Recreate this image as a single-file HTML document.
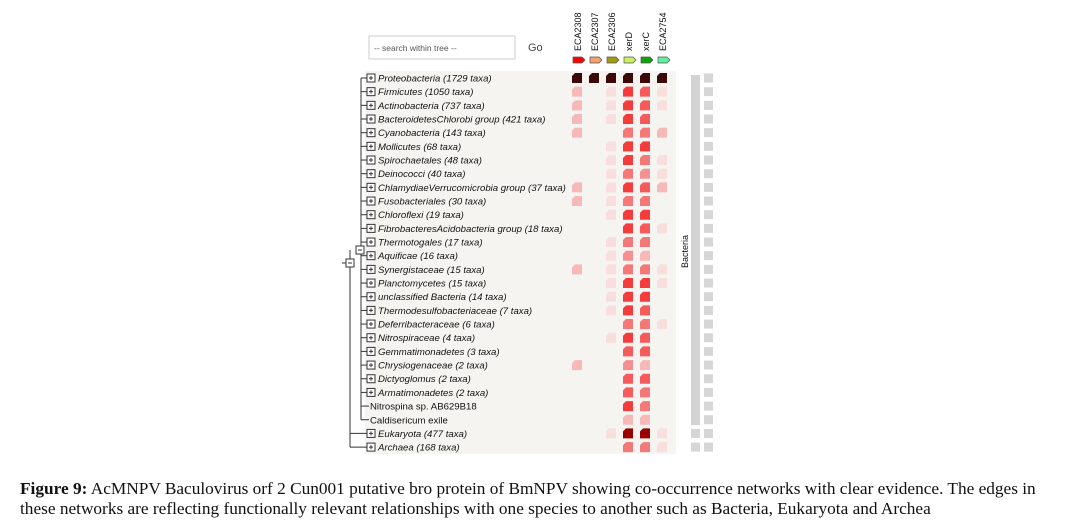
<!DOCTYPE html>
<html><head><meta charset="utf-8"><style>
body{margin:0;background:#fff;width:1067px;height:528px;overflow:hidden;}
svg{position:absolute;left:0;top:0;}
.cap{position:absolute;left:20px;top:479px;width:1035px;font-family:"Liberation Serif",serif;font-size:17.3px;line-height:20px;color:#111;white-space:nowrap;}
</style></head><body>
<svg width="1067" height="470" xmlns="http://www.w3.org/2000/svg" font-family="Liberation Sans, sans-serif">
<rect x="369" y="36" width="146" height="23" fill="#fff" stroke="#ccc"/>
<text x="374" y="51" font-size="8.5" fill="#555">-- search within tree --</text>
<text x="528" y="51" font-size="11" fill="#444">Go</text>
<g font-size="9" fill="#111">
<text transform="translate(581,51) rotate(-90)">ECA2308</text>
<text transform="translate(598,51) rotate(-90)">ECA2307</text>
<text transform="translate(615,51) rotate(-90)">ECA2306</text>
<text transform="translate(632,51) rotate(-90)">xerD</text>
<text transform="translate(649,51) rotate(-90)">xerC</text>
<text transform="translate(666,51) rotate(-90)">ECA2754</text>
</g>
<g stroke="#555" stroke-width="0.7">
<path d="M573,57h9l3,3l-3,3h-9z" fill="#f00"/>
<path d="M590,57h9l3,3l-3,3h-9z" fill="#f4a070"/>
<path d="M607,57h9l3,3l-3,3h-9z" fill="#a09a10"/>
<path d="M624,57h9l3,3l-3,3h-9z" fill="#c8f060"/>
<path d="M641,57h9l3,3l-3,3h-9z" fill="#10a010"/>
<path d="M658,57h9l3,3l-3,3h-9z" fill="#60f0a0"/>
</g>
<rect x="365" y="71" width="311" height="383" fill="#f5f4f0"/>
<rect x="691" y="75" width="9" height="350" fill="#d3d3d3"/>
<text transform="translate(688,268) rotate(-90)" font-size="9" fill="#111">Bacteria</text>
<g id="grey" fill="#d6d6d6"></g>
<g id="tree" stroke="#333" stroke-width="1" fill="none"></g>
<g id="labels" font-size="9.6" font-style="italic" fill="#111"></g>
<g id="cells"></g>
</svg>
<div class="cap"><b>Figure 9:</b> AcMNPV Baculovirus orf 2 Cun001 putative bro protein of BmNPV showing co-occurrence networks with clear evidence. The edges in<br>these networks are reflecting functionally relevant relationships with one species to another such as Bacteria, Eukaryota and Archea</div>
<script>
const NS="http://www.w3.org/2000/svg";
const names=["Proteobacteria (1729 taxa)","Firmicutes (1050 taxa)","Actinobacteria (737 taxa)","BacteroidetesChlorobi group (421 taxa)","Cyanobacteria (143 taxa)","Mollicutes (68 taxa)","Spirochaetales (48 taxa)","Deinococci (40 taxa)","ChlamydiaeVerrucomicrobia group (37 taxa)","Fusobacteriales (30 taxa)","Chloroflexi (19 taxa)","FibrobacteresAcidobacteria group (18 taxa)","Thermotogales (17 taxa)","Aquificae (16 taxa)","Synergistaceae (15 taxa)","Planctomycetes (15 taxa)","unclassified Bacteria (14 taxa)","Thermodesulfobacteriaceae (7 taxa)","Deferribacteraceae (6 taxa)","Nitrospiraceae (4 taxa)","Gemmatimonadetes (3 taxa)","Chrysiogenaceae (2 taxa)","Dictyoglomus (2 taxa)","Armatimonadetes (2 taxa)","Nitrospina sp. AB629B18","Caldisericum exile","Eukaryota (477 taxa)","Archaea (168 taxa)"];
const C={D:"#3d0808",E:"#9b0000",R:"#f53c3c",S:"#f65a5a",M:"#f47878",N:"#f59090",P:"#f7b8b8",L:"#f8dedc",_:null};
const data=["DDDDDD","P_LRSL","P_LRSL","P_LRS_","P__MMP","__LRR_","__LRML","__LMNL","P_LRSP","P_LMM_","__LRR_","___RSL","__LMM_","__LNP_","P_LMML","__LRRL","__LRR_","__LRS_","___MML","__LRS_","___SS_","P__NP_","___SS_","___SM_","___RM_","___PP_","__LEEL","___MML"];
const y0=78,dy=13.67;
const tree=document.getElementById("tree"),lab=document.getElementById("labels"),cells=document.getElementById("cells"),grey=document.getElementById("grey");
function el(p,t,a){const e=document.createElementNS(NS,t);for(const k in a)e.setAttribute(k,a[k]);p.appendChild(e);return e;}
function box(x,y,s){el(tree,"rect",{x:x,y:y-4,width:8,height:8,fill:"#fff"});el(tree,"path",{d:s?`M${x+2},${y}h4M${x+4},${y-2}v4`:`M${x+2},${y}h4`});}
const cols=[572,589,606,623,640,657];
for(let i=0;i<28;i++){
 const y=y0+i*dy;
 const bx=i>=26?350:361;
 const leaf=(i==24||i==25);
 el(tree,"path",{d:`M${bx},${y}H${leaf?369:367}`});
 if(!leaf)box(367,y,true);
 const t=el(lab,"text",{x:leaf?370:378,y:y+3.5});t.textContent=names[i];
 if(leaf)t.setAttribute("font-style","normal");
 data[i].split("").forEach((c,j)=>{if(C[c]){const x=cols[j],yt=y-5;el(cells,"polygon",{points:`${x},${yt+3} ${x+3},${yt} ${x+10},${yt} ${x+10},${yt+10} ${x},${yt+10}`,fill:C[c]});}});
 el(grey,"rect",{x:704,y:y-4.5,width:9,height:9});
 if(i>=26)el(grey,"rect",{x:691,y:y-4.5,width:9,height:9});
}
el(tree,"path",{d:`M361,${y0}V${y0+25*dy}`});
el(tree,"path",{d:`M350,250V${y0+27*dy}M361,250H356M342,263H346`});
box(356,250,false);box(346,263,false);
</script>
</body></html>
